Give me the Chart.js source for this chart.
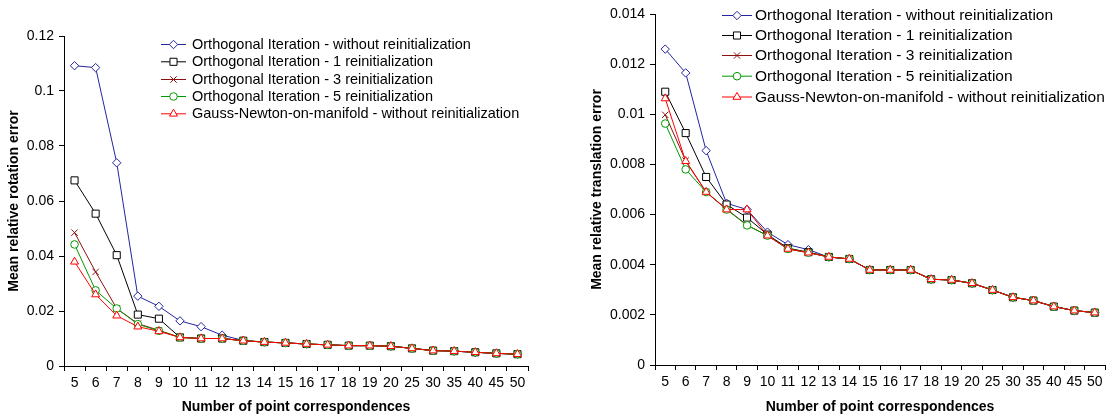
<!DOCTYPE html>
<html><head><meta charset="utf-8">
<script src="https://cdn.jsdelivr.net/npm/chart.js@4/dist/chart.umd.min.js"></script>
<style>
body{margin:0;background:#fff;width:1111px;height:420px;overflow:hidden;position:relative;font-family:"Liberation Sans",Arial,sans-serif}
#c1{position:absolute;left:0;top:0}
#c2{position:absolute;left:555px;top:0}
</style></head>
<body>
<canvas id="c1" width="555" height="420"></canvas>
<canvas id="c2" width="556" height="420"></canvas>
<script>
const categories = ['5','6','7','8','9','10','11','12','13','14','15','16','17','18','19','20','25','30','35','40','45','50'];
const seriesNames = [
  'Orthogonal Iteration - without reinitialization',
  'Orthogonal Iteration - 1 reinitialization',
  'Orthogonal Iteration - 3 reinitialization',
  'Orthogonal Iteration - 5 reinitialization',
  'Gauss-Newton-on-manifold - without reinitialization'
];
// Rotation error (left chart)
const rotOI0 = [0.1092,0.1085,0.0739,0.0254,0.0217,0.0164,0.0143,0.0112,0.0093,0.0087,0.0084,0.0080,0.0077,0.0074,0.0074,0.0072,0.0064,0.0056,0.0054,0.0050,0.0046,0.0043];
const rotOI1 = [0.0675,0.0554,0.0403,0.0187,0.0172,0.0104,0.0100,0.0100,0.0092,0.0087,0.0084,0.0080,0.0077,0.0074,0.0074,0.0072,0.0064,0.0056,0.0054,0.0050,0.0046,0.0043];
const rotOI3 = [0.0485,0.0342,0.0209,0.0154,0.0130,0.0104,0.0100,0.0100,0.0092,0.0087,0.0084,0.0080,0.0077,0.0074,0.0074,0.0072,0.0064,0.0056,0.0054,0.0050,0.0046,0.0043];
const rotOI5 = [0.0442,0.0275,0.0209,0.0152,0.0128,0.0104,0.0100,0.0100,0.0092,0.0087,0.0084,0.0080,0.0077,0.0074,0.0074,0.0072,0.0064,0.0056,0.0054,0.0050,0.0046,0.0043];
const rotGN  = [0.0379,0.0260,0.0183,0.0143,0.0126,0.0104,0.0100,0.0100,0.0092,0.0087,0.0084,0.0080,0.0077,0.0074,0.0074,0.0072,0.0064,0.0056,0.0054,0.0050,0.0046,0.0043];
// Translation error (right chart)
const traOI0 = [0.0126,0.01165,0.00855,0.00645,0.0062,0.0053,0.0048,0.0046,0.0043,0.00423,0.00379,0.00379,0.00379,0.00342,0.00339,0.00326,0.00299,0.0027,0.00257,0.00233,0.00217,0.00209];
const traOI1 = [0.0109,0.00925,0.0075,0.0064,0.00588,0.0052,0.00466,0.0045,0.00431,0.00423,0.00379,0.00379,0.00379,0.00342,0.00339,0.00326,0.00299,0.0027,0.00257,0.00233,0.00217,0.00209];
const traOI3 = [0.00998,0.00815,0.0069,0.00622,0.00558,0.00516,0.00463,0.00448,0.00431,0.00423,0.00379,0.00379,0.00379,0.00342,0.00339,0.00326,0.00299,0.0027,0.00257,0.00233,0.00217,0.00209];
const traOI5 = [0.00963,0.00780,0.0069,0.0062,0.00557,0.00516,0.00463,0.00448,0.00431,0.00423,0.00379,0.00379,0.00379,0.00342,0.00339,0.00326,0.00299,0.0027,0.00257,0.00233,0.00217,0.00209];
const traGN  = [0.01063,0.00813,0.0069,0.0062,0.0062,0.00516,0.00463,0.00448,0.00431,0.00423,0.00379,0.00379,0.00379,0.00342,0.00339,0.00326,0.00299,0.0027,0.00257,0.00233,0.00217,0.00209];
const rotTicks = [0,0.02,0.04,0.06,0.08,0.1,0.12];
const traTicks = [0,0.002,0.004,0.006,0.008,0.01,0.012,0.014];

const styles = [
  {color:'#2424A0', point:'rectRot', r:4.2, order:4},
  {color:'#000000', point:'rect',    r:5,   order:3},
  {color:'#8B1010', point:'crossRot',r:4.5, order:2},
  {color:'#009900', point:'circle',  r:3.8, order:1},
  {color:'#FF0000', point:'triangle',r:4.6, order:0}
];

function makeDatasets(arrs){
  return arrs.map((d,i)=>({
    label: seriesNames[i], data: d,
    borderColor: styles[i].color, borderWidth: 1,
    pointStyle: styles[i].point, pointRadius: styles[i].r, pointHoverRadius: styles[i].r,
    pointBorderColor: styles[i].color, pointBackgroundColor: '#ffffff', pointBorderWidth: 1,
    tension: 0, fill: false, order: styles[i].order
  }));
}

const legendPlugin = {
  id: 'customLegend',
  afterDraw(chart){
    const o = chart.options.plugins.customLegend;
    if(!o) return;
    const ctx = chart.ctx;
    ctx.save();
    chart.data.datasets.forEach((ds,i)=>{
      const y = o.rows[i];
      ctx.strokeStyle = ds.borderColor; ctx.lineWidth = 1;
      ctx.beginPath(); ctx.moveTo(o.x0, y+0.5); ctx.lineTo(o.x1, y+0.5); ctx.stroke();
      ctx.fillStyle = '#ffffff'; ctx.strokeStyle = ds.borderColor;
      Chart.helpers.drawPoint(ctx, {pointStyle: ds.pointStyle, radius: ds.pointRadius, rotation: 0, borderWidth: 1}, (o.x0+o.x1)/2, y+0.5);
      ctx.fillStyle = '#000'; ctx.font = o.font; ctx.textBaseline = 'middle'; ctx.textAlign = 'left';
      ctx.fillText(ds.label, o.tx, y+1);
    });
    ctx.restore();
  }
};

function makeChart(id, arrs, yTicks, yMax, yTitle, cfg){
  return new Chart(document.getElementById(id), {
    type: 'line',
    data: {labels: categories, datasets: makeDatasets(arrs)},
    plugins: [legendPlugin],
    options: {
      responsive: false, animation: false, devicePixelRatio: 1,
      layout: {padding: {left: cfg.padLeft, right: cfg.padRight, top: cfg.padTop, bottom: 4}},
      plugins: {legend: {display: false}, tooltip: {enabled: false}, customLegend: cfg.legend},
      scales: {
        x: {
          type: 'category', offset: true,
          grid: {offset: true, drawOnChartArea: false, drawTicks: true, tickLength: 5, color: '#000', tickColor:'#000'},
          border: {color: '#000', width: 1},
          ticks: {color: '#000', font: {family: '"Liberation Sans", Arial', size: 14}, maxRotation: 0, autoSkip: false, padding: 4},
          title: {display: true, text: 'Number of point correspondences', color: '#000', font: {family: '"Liberation Sans", Arial', size: 14, weight: 'bold'}, padding: {top: 0, bottom: 0}},
          afterFit(s){ s.height = cfg.xHeight; }
        },
        y: {
          min: 0, max: yMax,
          afterBuildTicks(s){ s.ticks = yTicks.map(v=>({value:v})); },
          grid: {drawOnChartArea: false, drawTicks: true, tickLength: 5, color: '#000', tickColor:'#000'},
          border: {color: '#000', width: 1},
          ticks: {color: '#000', font: {family: '"Liberation Sans", Arial', size: 14}, padding: 5,
                  callback: (v)=> String(+(+v).toFixed(4))},
          title: {display: true, text: yTitle, color: '#000', font: {family: '"Liberation Sans", Arial', size: 14, weight: 'bold'}, padding: {top: 0, bottom: 0}},
          afterFit(s){ s.width = cfg.yWidth; }
        }
      }
    }
  });
}

makeChart('c1', [rotOI0, rotOI1, rotOI3, rotOI5, rotGN], rotTicks, 0.12, 'Mean relative rotation error', {
  padLeft: 6, padRight: 27, padTop: 36, yWidth: 58, xHeight: 50,
  legend: {x0: 161, x1: 186, tx: 192, rows: [44, 61.3, 79, 96, 113.3], font: '14.5px "Liberation Sans", Arial'}
});
makeChart('c2', [traOI0, traOI1, traOI3, traOI5, traGN], traTicks, 0.014, 'Mean relative translation error', {
  padLeft: 34, padRight: 1, padTop: 14, yWidth: 66, xHeight: 51,
  legend: {x0: 167, x1: 197, tx: 200, rows: [15, 35, 55, 75.7, 96.5], font: '15.5px "Liberation Sans", Arial'}
});
</script>
</body></html>
